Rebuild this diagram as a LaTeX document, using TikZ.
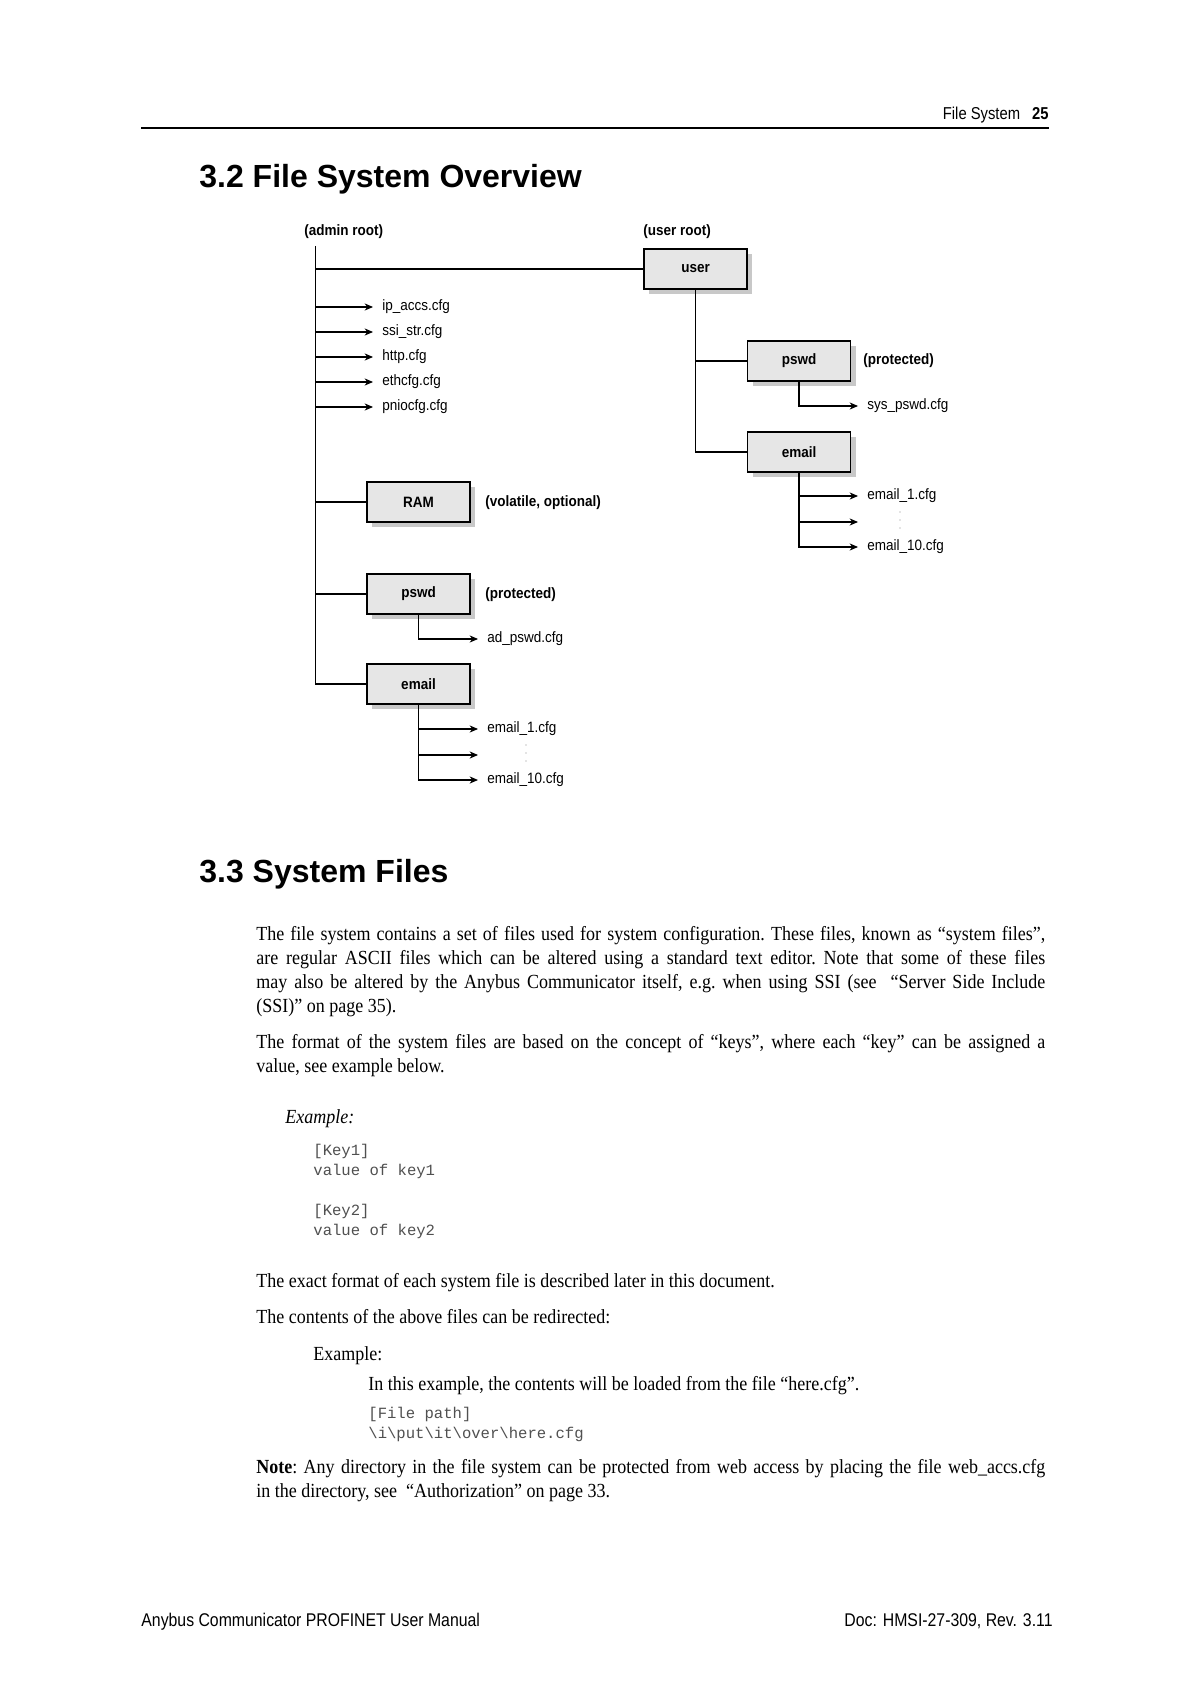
\documentclass[tikz,border=0pt]{standalone}
\usepackage{fontspec}
\setmainfont[FakeStretch=0.9]{Liberation Serif}
\newfontfamily\arialfont{Liberation Sans}
\newfontfamily\narrowfont[FakeStretch=0.86]{Liberation Sans}
\newfontfamily\diagfont[FakeStretch=0.9]{Liberation Sans}
\newfontfamily\codefont{Liberation Mono}
\usetikzlibrary{arrows.meta,shadows,positioning}

\definecolor{boxgray}{RGB}{230,230,230}
\definecolor{shadegray}{RGB}{200,200,200}
\definecolor{codegray}{RGB}{80,80,80}

\tikzset{
  dirbox/.style={draw, line width=0.6pt, fill=boxgray, minimum width=51.5pt, minimum height=20pt,
    inner sep=0pt, font=\diagfont\fontsize{7.5}{9}\selectfont\bfseries,
    drop shadow={shadow xshift=2.5pt, shadow yshift=-2.5pt, fill=shadegray, opacity=1}},
  filename/.style={anchor=west, inner sep=1pt, font=\diagfont\fontsize{7.5}{9}\selectfont},
  remark/.style={filename, font=\diagfont\fontsize{7.5}{9}\selectfont\bfseries},
  tree/.style={line width=0.6pt},
  arr/.style={tree, -{Stealth[length=4.2pt,width=3.6pt]}, shorten >=3.5pt},
  body/.style={anchor=base west, inner sep=0pt, font=\fontsize{10}{12}\selectfont\frenchspacing},
  para/.style={body, text width=394.5pt, align=justify},
  % multi-line code blocks are anchored at their last baseline
  code/.style={anchor=base west, inner sep=0pt, align=left, text=codegray,
    font=\codefont\fontsize{7.8}{10}\selectfont},
  heading/.style={anchor=base west, inner sep=0pt, font=\arialfont\fontsize{16}{19}\selectfont\bfseries},
  pagetext/.style={inner sep=0pt, font=\narrowfont\fontsize{9.2}{11}\selectfont}
}

\begin{document}
\begin{tikzpicture}[x=0.5pt, y=-0.5pt]
\path[use as bounding box, fill=white] (0,0) rectangle (1190,1684);

% page header and footer
\node[pagetext, anchor=base east, font=\narrowfont\fontsize{8.6}{10}\selectfont] (pagehead) at (1049,120) {File System\hspace{6pt}\textbf{25}};
\draw[line width=1pt] (141,128) -- (1049,128);
\node[pagetext, anchor=base west] (footleft) at (141,1626) {Anybus Communicator PROFINET User Manual};
\node[pagetext, anchor=base east] (footright) at (1053,1626) {Doc: HMSI-27-309, Rev. 3.11};

\node[heading] (sec32) at (199,188) {3.2 File System Overview};

% admin tree
\coordinate (aroot) at (315.5,246);
\node[remark, anchor=west] (adminlbl) at (302,232) {(admin root)};
\node[remark, anchor=west] (userlbl) at (641,232) {(user root)};

\node[dirbox] (user) at (695.5,269) {user};
\node[dirbox] (ram) at (418.5,502) {RAM};
\node[dirbox] (apswd) at (418.5,594) {pswd};
\node[dirbox] (aemail) at (418.5,684) {email};

\node[remark] (ramnote) at (483,503) {(volatile, optional)};
\node[remark] (aprot) at (483,595) {(protected)};

\node[filename] (f1) at (380,307) {ip\_accs.cfg};
\node[filename] (f2) at (380,332) {ssi\_str.cfg};
\node[filename] (f3) at (380,357) {http.cfg};
\node[filename] (f4) at (380,382) {ethcfg.cfg};
\node[filename] (f5) at (380,407) {pniocfg.cfg};

\node[filename] (adpswd) at (485,639) {ad\_pswd.cfg};
\node[filename] (ae1) at (485,729) {email\_1.cfg};
\coordinate (ae2) at (485,755);
\node[filename] (ae3) at (485,780) {email\_10.cfg};

\draw[tree] (aroot) |- (aemail.west);
\draw[tree] (aroot |- user.west) -- (user.west);
\draw[tree] (aroot |- ram.west) -- (ram.west);
\draw[tree] (aroot |- apswd.west) -- (apswd.west);
\foreach \f in {f1,f2,f3,f4,f5}
  \draw[arr] (aroot |- \f.west) -- (\f.west);

\draw[arr] (apswd.south) |- (adpswd.west);
\draw[arr] (aemail.south) |- (ae3.west);
\draw[arr] (aemail.south |- ae1.west) -- (ae1.west);
\draw[arr] (aemail.south |- ae2) -- (ae2);
\foreach \y in {745,753,761}
  \fill[black!45] (526,\y) circle (0.35pt);

% user tree
\node[dirbox] (upswd) at (799,361) {pswd};
\node[dirbox] (uemail) at (799,452) {email};
\node[remark] (uprot) at (861,361) {(protected)};

\node[filename] (syspswd) at (865,406) {sys\_pswd.cfg};
\node[filename] (ue1) at (865,496) {email\_1.cfg};
\coordinate (ue2) at (865,522);
\node[filename] (ue3) at (865,547) {email\_10.cfg};

\draw[tree] (user.south) |- (uemail.west);
\draw[tree] (user.south |- upswd.west) -- (upswd.west);
\draw[arr] (upswd.south) |- (syspswd.west);
\draw[arr] (uemail.south) |- (ue3.west);
\draw[arr] (uemail.south |- ue1.west) -- (ue1.west);
\draw[arr] (uemail.south |- ue2) -- (ue2);
\foreach \y in {512,520,528}
  \fill[black!45] (900,\y) circle (0.35pt);

% section 3.3
\node[heading] (sec33) at (199,882) {3.3 System Files};

\node[para] (p1) at (256,940) {The file system contains a set of files used for system configuration. These files, known as “system files”,\linebreak
are regular ASCII files which can be altered using a standard text editor. Note that some of these files\linebreak
may also be altered by the Anybus Communicator itself, e.g. when using SSI (see \ “Server Side Include\linebreak
(SSI)” on page 35).};
\node[para] (p2) at (256,1048) {The format of the system files are based on the concept of “keys”, where each “key” can be assigned a\linebreak
value, see example below.};

\node[body] (ex1) at (285,1123) {\textit{Example:}};
\node[code] (code1) at (313,1235) {[Key1]\\value of key1\\[10pt][Key2]\\value of key2};

\node[body] (p3) at (256,1287) {The exact format of each system file is described later in this document.};
\node[body] (p4) at (256,1323) {The contents of the above files can be redirected:};

\node[body] (ex2) at (313,1360) {Example:};
\node[body] (p5) at (368,1390) {In this example, the contents will be loaded from the file “here.cfg”.};
\node[code] (code2) at (368,1438) {[File path]\\\textbackslash i\textbackslash put\textbackslash it\textbackslash over\textbackslash here.cfg};

\node[para] (note) at (256,1473) {\textbf{Note}: Any directory in the file system can be protected from web access by placing the file web\_accs.cfg\linebreak
in the directory, see \ “Authorization” on page 33.};
\end{tikzpicture}
\end{document}
